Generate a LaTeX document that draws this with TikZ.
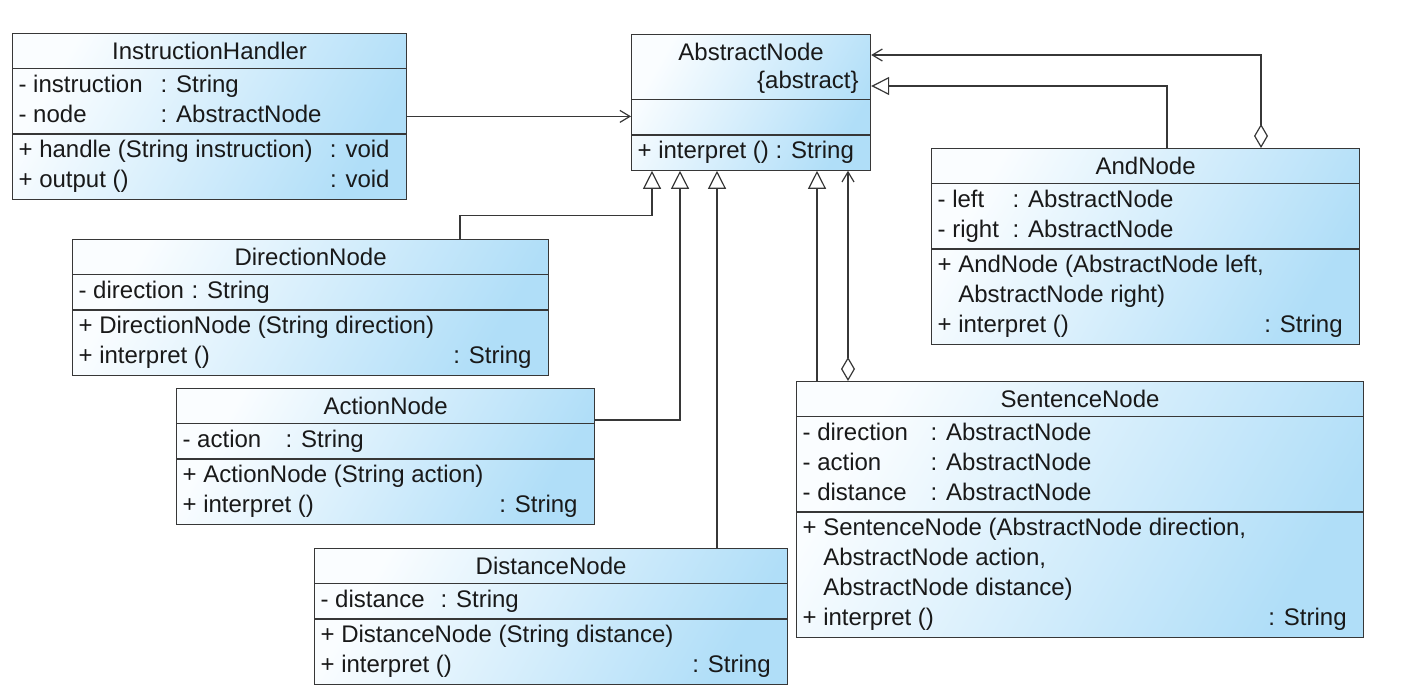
\documentclass[tikz,border=0pt]{standalone}
\usepackage{fontspec}
\setmainfont{Liberation Sans}
\usetikzlibrary{shapes.multipart, arrows.meta, calc}

\definecolor{clsA}{RGB}{250,253,255}
\definecolor{clsB}{RGB}{176,222,248}
\definecolor{clsline}{RGB}{55,55,55}

% class box rows
\newlength\clsw
\newcommand\cpart[1]{\vbox{\offinterlineskip#1}}
\newcommand\crow[1]{\hbox to\clsw{\vrule height 10.5pt depth 4.5pt width 0pt #1}}
\newcommand\ctitle[1]{\hbox to\clsw{\vrule height 11.5pt depth 3.5pt width 0pt\hfil #1\hfil}}
\newcommand\cattr[3]{\crow{\makebox[#1][l]{#2}: #3\hfil}}
\newcommand\cop[2]{\crow{#1\hfil #2\hspace*{5.5pt}}}

\begin{document}
\begin{tikzpicture}[
    x=0.5pt, y=-0.5pt,
    cls/.style={rectangle split, rectangle split parts=3, draw=clsline, line width=0.6pt,
        shade, left color=clsA, right color=clsB, shading angle=60,
        inner xsep=3pt, inner ysep=1pt, anchor=north west, text=black!90,
        font=\fontsize{12}{15}\selectfont, execute at begin node={\global\clsw=#1}},
    conn/.style={draw=clsline, line width=0.6pt},
    inherit/.style={conn, -{Triangle[open, length=9pt, width=9pt, fill=white]}},
    assoc/.style={conn, -{Straight Barb[length=5pt, width=6pt]}},
    aggr/.style={conn, {Diamond[open, length=12pt, width=7pt, fill=white]}-{Straight Barb[length=5pt, width=6pt]}}
]
\useasboundingbox (0,0) rectangle (1422,700);

% Classes
\node[cls=191pt] (ih) at (12,33) {\cpart{\ctitle{InstructionHandler}}
    \nodepart{two}\cpart{\cattr{71pt}{- instruction}{String}\cattr{71pt}{- node}{AbstractNode}}
    \nodepart{three}\cpart{\cop{+ handle (String instruction)}{: void}\cop{+ output ()}{: void}}};
\node[cls=113.5pt] (abs) at (631,34) {\cpart{\ctitle{AbstractNode}\crow{\hfil\{abstract\}\hspace*{3pt}}}
    \nodepart{two}\cpart{\crow{}}
    \nodepart{three}\cpart{\crow{+ interpret () : String\hfil}}};
\node[cls=208pt] (and) at (931,148) {\cpart{\ctitle{AndNode}}
    \nodepart{two}\cpart{\cattr{37.5pt}{- left}{AbstractNode}\cattr{37.5pt}{- right}{AbstractNode}}
    \nodepart{three}\cpart{\crow{+ AndNode (AbstractNode left,\hfil}\crow{\hphantom{+\ }AbstractNode right)\hfil}\cop{+ interpret ()}{: String}}};
\node[cls=232pt] (dir) at (72,239) {\cpart{\ctitle{DirectionNode}}
    \nodepart{two}\cpart{\cattr{56.5pt}{- direction}{String}}
    \nodepart{three}\cpart{\crow{+ DirectionNode (String direction)\hfil}\cop{+ interpret ()}{: String}}};
\node[cls=203pt] (act) at (176,388) {\cpart{\ctitle{ActionNode}}
    \nodepart{two}\cpart{\cattr{51.5pt}{- action}{String}}
    \nodepart{three}\cpart{\crow{+ ActionNode (String action)\hfil}\cop{+ interpret ()}{: String}}};
\node[cls=230.5pt] (dist) at (314,548) {\cpart{\ctitle{DistanceNode}}
    \nodepart{two}\cpart{\cattr{60pt}{- distance}{String}}
    \nodepart{three}\cpart{\crow{+ DistanceNode (String distance)\hfil}\cop{+ interpret ()}{: String}}};
\node[cls=277.5pt] (sent) at (796,381) {\cpart{\ctitle{SentenceNode}}
    \nodepart{two}\cpart{\cattr{64pt}{- direction}{AbstractNode}\cattr{64pt}{- action}{AbstractNode}\cattr{64pt}{- distance}{AbstractNode}}
    \nodepart{three}\cpart{\crow{+ SentenceNode (AbstractNode direction,\hfil}\crow{\hphantom{+\ }AbstractNode action,\hfil}\crow{\hphantom{+\ }AbstractNode distance)\hfil}\cop{+ interpret ()}{: String}}};

% Relations
\draw[assoc] (ih.east) -- (ih.east -| abs.west);
\draw[inherit] ($(dir.north west)+(388,0)$) |- ($(abs.south west)+(21,45)$) -- ($(abs.south west)+(21,0)$);
\draw[inherit] ($(act.north east)+(0,32)$) -| ($(abs.south west)+(49,0)$);
\draw[inherit] ($(dist.north west)+(403,0)$) -- ($(abs.south west)+(86,0)$);
\draw[inherit] ($(sent.north west)+(21,0)$) -- ($(abs.south west)+(186,0)$);
\draw[aggr] ($(sent.north west)+(52,0)$) -- ($(abs.south west)+(217,0)$);
\draw[inherit] ($(and.north west)+(236,0)$) |- ($(abs.north east)+(0,52)$);
\draw[aggr] ($(and.north west)+(330,0)$) |- ($(abs.north east)+(0,21)$);

\end{tikzpicture}
\end{document}
